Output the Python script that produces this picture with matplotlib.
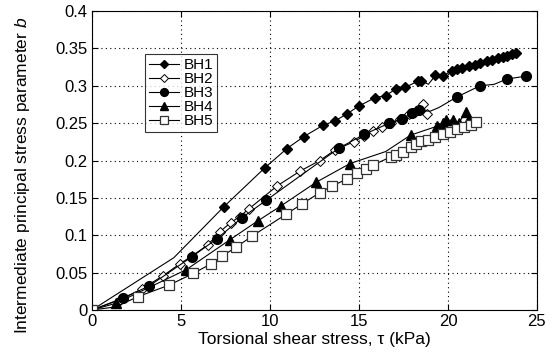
import matplotlib
matplotlib.use('Agg')
import matplotlib.pyplot as plt
from matplotlib.ticker import FuncFormatter

plt.rcParams['font.family'] = ['Liberation Sans', 'DejaVu Sans']
plt.rcParams['mathtext.fontset'] = 'custom'
plt.rcParams['mathtext.it'] = 'Liberation Sans:italic'

# 數據，markevery 清單以外的點只畫線不畫 marker
bh1_x = [0, 4.6, 7.4, 9.7, 10.95, 11.9, 12.97, 13.65, 14.3, 15.0, 15.9, 16.5, 17.1, 17.6, 18.3, 18.5,
         18.9, 19.3, 19.7, 20.2, 20.5, 20.8, 21.2, 21.5, 21.8, 22.2, 22.5, 22.8, 23.1, 23.3, 23.6, 23.8]
bh1_y = [0, 0.070, 0.138, 0.190, 0.216, 0.232, 0.247, 0.253, 0.262, 0.273, 0.284, 0.287, 0.296, 0.298, 0.306, 0.307,
         0.302, 0.314, 0.313, 0.320, 0.322, 0.324, 0.326, 0.328, 0.330, 0.333, 0.335, 0.337, 0.339, 0.340, 0.343, 0.344]
bh1_mark = [0] + list(range(2, 16)) + list(range(17, 32))

bh2_x = [0, 1.6, 2.8, 4.0, 4.95, 5.6, 6.5, 7.2, 7.8, 8.3, 8.8, 10.4, 11.7, 12.8, 13.65, 14.7,
         15.3, 15.8, 16.3, 16.8, 17.3, 17.8, 18.2, 18.6, 18.8]
bh2_y = [0, 0.014, 0.028, 0.046, 0.062, 0.072, 0.087, 0.105, 0.117, 0.125, 0.135, 0.166, 0.186, 0.200, 0.214, 0.225,
         0.233, 0.240, 0.245, 0.250, 0.255, 0.262, 0.266, 0.275, 0.262]
bh2_mark = list(range(len(bh2_x)))

bh3_x = [0, 1.75, 3.2, 5.6, 7.0, 8.4, 9.8, 13.9, 15.3, 16.7, 17.4, 18.0, 18.4, 19.0, 19.5, 20.5, 21.8, 22.6, 23.3, 24.4]
bh3_y = [0, 0.016, 0.032, 0.071, 0.095, 0.123, 0.147, 0.217, 0.235, 0.250, 0.256, 0.263, 0.267, 0.266, 0.271, 0.285, 0.300, 0.302, 0.309, 0.313]
bh3_mark = [0, 1, 2, 3, 4, 5, 6, 7, 8, 9, 10, 11, 12, 15, 16, 18, 19]

bh4_x = [0, 1.35, 5.3, 7.75, 9.3, 10.6, 12.6, 14.5, 16.5, 17.9, 19.4, 19.7, 19.9, 20.3, 20.6, 21.0, 21.2]
bh4_y = [0, 0.009, 0.054, 0.094, 0.119, 0.139, 0.171, 0.196, 0.212, 0.234, 0.246, 0.250, 0.254, 0.254, 0.250, 0.265, 0.255]
bh4_mark = [0, 1, 2, 3, 4, 5, 6, 7, 9, 10, 11, 12, 13, 14, 15, 16]

bh5_x = [0, 1.3, 2.6, 4.3, 5.7, 6.7, 7.3, 8.1, 9.0, 10.9, 11.8, 12.8, 13.5, 14.3, 14.9, 15.4, 15.8, 16.8, 17.1,
         17.5, 17.9, 18.2, 18.5, 18.9, 19.3, 19.7, 20.1, 20.5, 20.9, 21.3, 21.6]
bh5_y = [0, 0.004, 0.018, 0.033, 0.049, 0.062, 0.072, 0.084, 0.099, 0.128, 0.142, 0.157, 0.166, 0.175, 0.183, 0.188,
         0.194, 0.205, 0.207, 0.212, 0.218, 0.222, 0.226, 0.228, 0.232, 0.236, 0.238, 0.242, 0.245, 0.248, 0.252]
bh5_mark = [0] + list(range(2, len(bh5_x)))

LABELS = ['BH1', 'BH2', 'BH3', 'BH4', 'BH5']
X_TICKS = [0, 5, 10, 15, 20, 25]
Y_TICKS = [0, 0.05, 0.1, 0.15, 0.2, 0.25, 0.3, 0.35, 0.4]

fig = plt.figure(figsize=(5.52, 3.55), dpi=100)
ax = fig.add_axes([0.1667, 0.1268, 0.806, 0.842])

styles = [
    dict(marker='D', ms=5.5, mfc='black', mec='black'),
    dict(marker='D', ms=5.5, mfc='white', mec='black', mew=0.7),
    dict(marker='o', ms=7, mfc='black', mec='black'),
    dict(marker='^', ms=7.5, mfc='black', mec='black'),
    dict(marker='s', ms=7.5, mfc='white', mec='#333333', mew=0.9),
]
series = [(bh1_x, bh1_y, bh1_mark), (bh2_x, bh2_y, bh2_mark), (bh3_x, bh3_y, bh3_mark),
          (bh4_x, bh4_y, bh4_mark), (bh5_x, bh5_y, bh5_mark)]

for (xs, ys, mk), lab, st in zip(series, LABELS, styles):
    ax.plot(xs, ys, color='black', lw=0.8, markevery=mk, label=lab, **st)

ax.set_xlim(0, 25)
ax.set_ylim(0, 0.4)
ax.set_xticks(X_TICKS)
ax.set_yticks(Y_TICKS)
ax.yaxis.set_major_formatter(FuncFormatter(lambda v, p: '0' if v == 0 else f'{v:g}'))
ax.tick_params(direction='in', top=True, right=True, labelsize=12, length=4, pad=3)
ax.grid(True, color='black', linestyle=(0, (1, 3)), linewidth=0.8)

ax.set_xlabel('Torsional shear stress, τ (kPa)', fontsize=12.5, labelpad=2)
ax.set_ylabel('Intermediate principal stress parameter $b$', fontsize=12.5)
ax.yaxis.set_label_coords(-0.135, 0.45)

leg = ax.legend(loc='upper left', bbox_to_anchor=(0.119, 0.855), fontsize=11, frameon=True,
                fancybox=False, edgecolor='black', handlelength=2.0, handletextpad=0.3,
                labelspacing=0.0, borderpad=0.25, borderaxespad=0, markerscale=0.8)
leg.get_frame().set_linewidth(0.8)

plt.savefig('out.png', dpi=100)
